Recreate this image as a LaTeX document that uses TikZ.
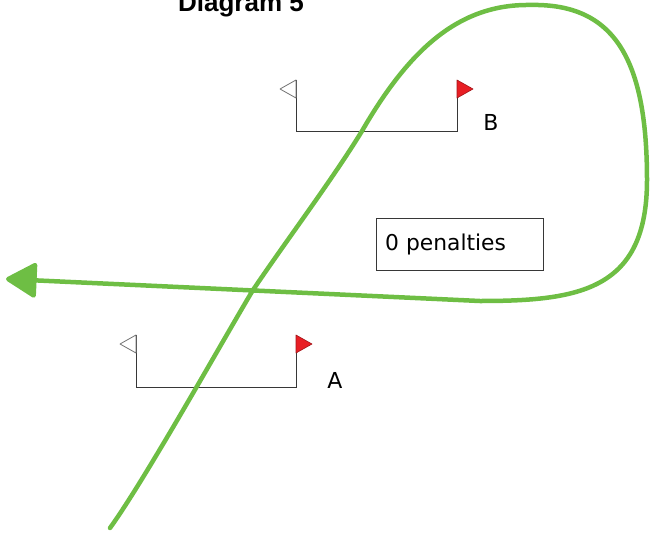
\documentclass[tikz,border=0pt]{standalone}
\usepackage{fontspec}
\setmainfont{DejaVu Sans}
\newfontfamily\titlefont{Liberation Sans}
\usetikzlibrary{arrows.meta}
\definecolor{coursegreen}{RGB}{110,190,68}
\definecolor{flagred}{RGB}{232,30,36}
\definecolor{postgray}{RGB}{55,55,55}
\tikzset{
  gateline/.style={draw=postgray, line width=1pt, line join=miter},
  lflag/.style={draw=black!55, fill=white, line width=0.8pt, line join=round},
  rflag/.style={draw=flagred!70!black, fill=flagred, line width=0.6pt, line join=round},
  gatelbl/.style={font=\fontsize{22}{26}\selectfont, inner sep=0pt},
  penbox/.style={
    draw=postgray, line width=1pt, inner xsep=9pt, inner ysep=0pt,
    text width=149pt, minimum height=52pt, align=left,
    font=\fontsize{21.8}{26}\selectfont,
  },
  course/.style={coursegreen, line width=4.5pt, line cap=round, line join=round},
}

\begin{document}
\begin{tikzpicture}[x=1pt, y=-1pt]
\useasboundingbox (0,0) rectangle (650,535);

% =====================================================================
%  TITLE (cut at the top edge)
% =====================================================================
\node[font=\titlefont\bfseries\fontsize{26}{30}\selectfont, anchor=base,
      inner sep=0pt] (ttl) at (241,12) {Diagram 5};

% =====================================================================
%  GATES
% =====================================================================
\foreach \g/\lx/\rx/\ty/\by in {A/136/296/335/387, B/296/457/80/131} {
  \coordinate (\g-lt) at (\lx,\ty);
  \coordinate (\g-rt) at (\rx,\ty);
  \draw[gateline] (\g-lt) -- (\lx,\by) -- (\rx,\by) -- (\g-rt);
  \filldraw[lflag] (\g-lt) -- ++(-16,9) -- ++(16,9) -- cycle;
  \filldraw[rflag] (\g-rt) -- ++(16,9) -- ++(-16,9) -- cycle;
}
\node[gatelbl] (lblA) at (335,380) {A};
\node[gatelbl] (lblB) at (491,122) {B};

% penalty count
\node[penbox] (pen) at (459.5,244) {0 penalties};

% =====================================================================
%  COURSE
% =====================================================================
\coordinate (start) at (110,528);
\coordinate (cross) at (253,290);
\coordinate (thruB) at (362,131);
\coordinate (top) at (530,5);
\coordinate (east) at (647,180);
\coordinate (low) at (480,301);
\coordinate (tip) at (6,279);
\draw[course, -{Triangle[length=33pt, width=37pt, round]}]
  (start) .. controls (146,478) and (223,340) .. (cross)
          .. controls (286,241) and (332,180) .. (thruB)
          .. controls (410,48) and (460,4) .. (top)
          .. controls (615,3) and (647,60) .. (east)
          .. controls (647,290) and (580,301) .. (low)
          -- (tip);

\end{tikzpicture}
\end{document}
